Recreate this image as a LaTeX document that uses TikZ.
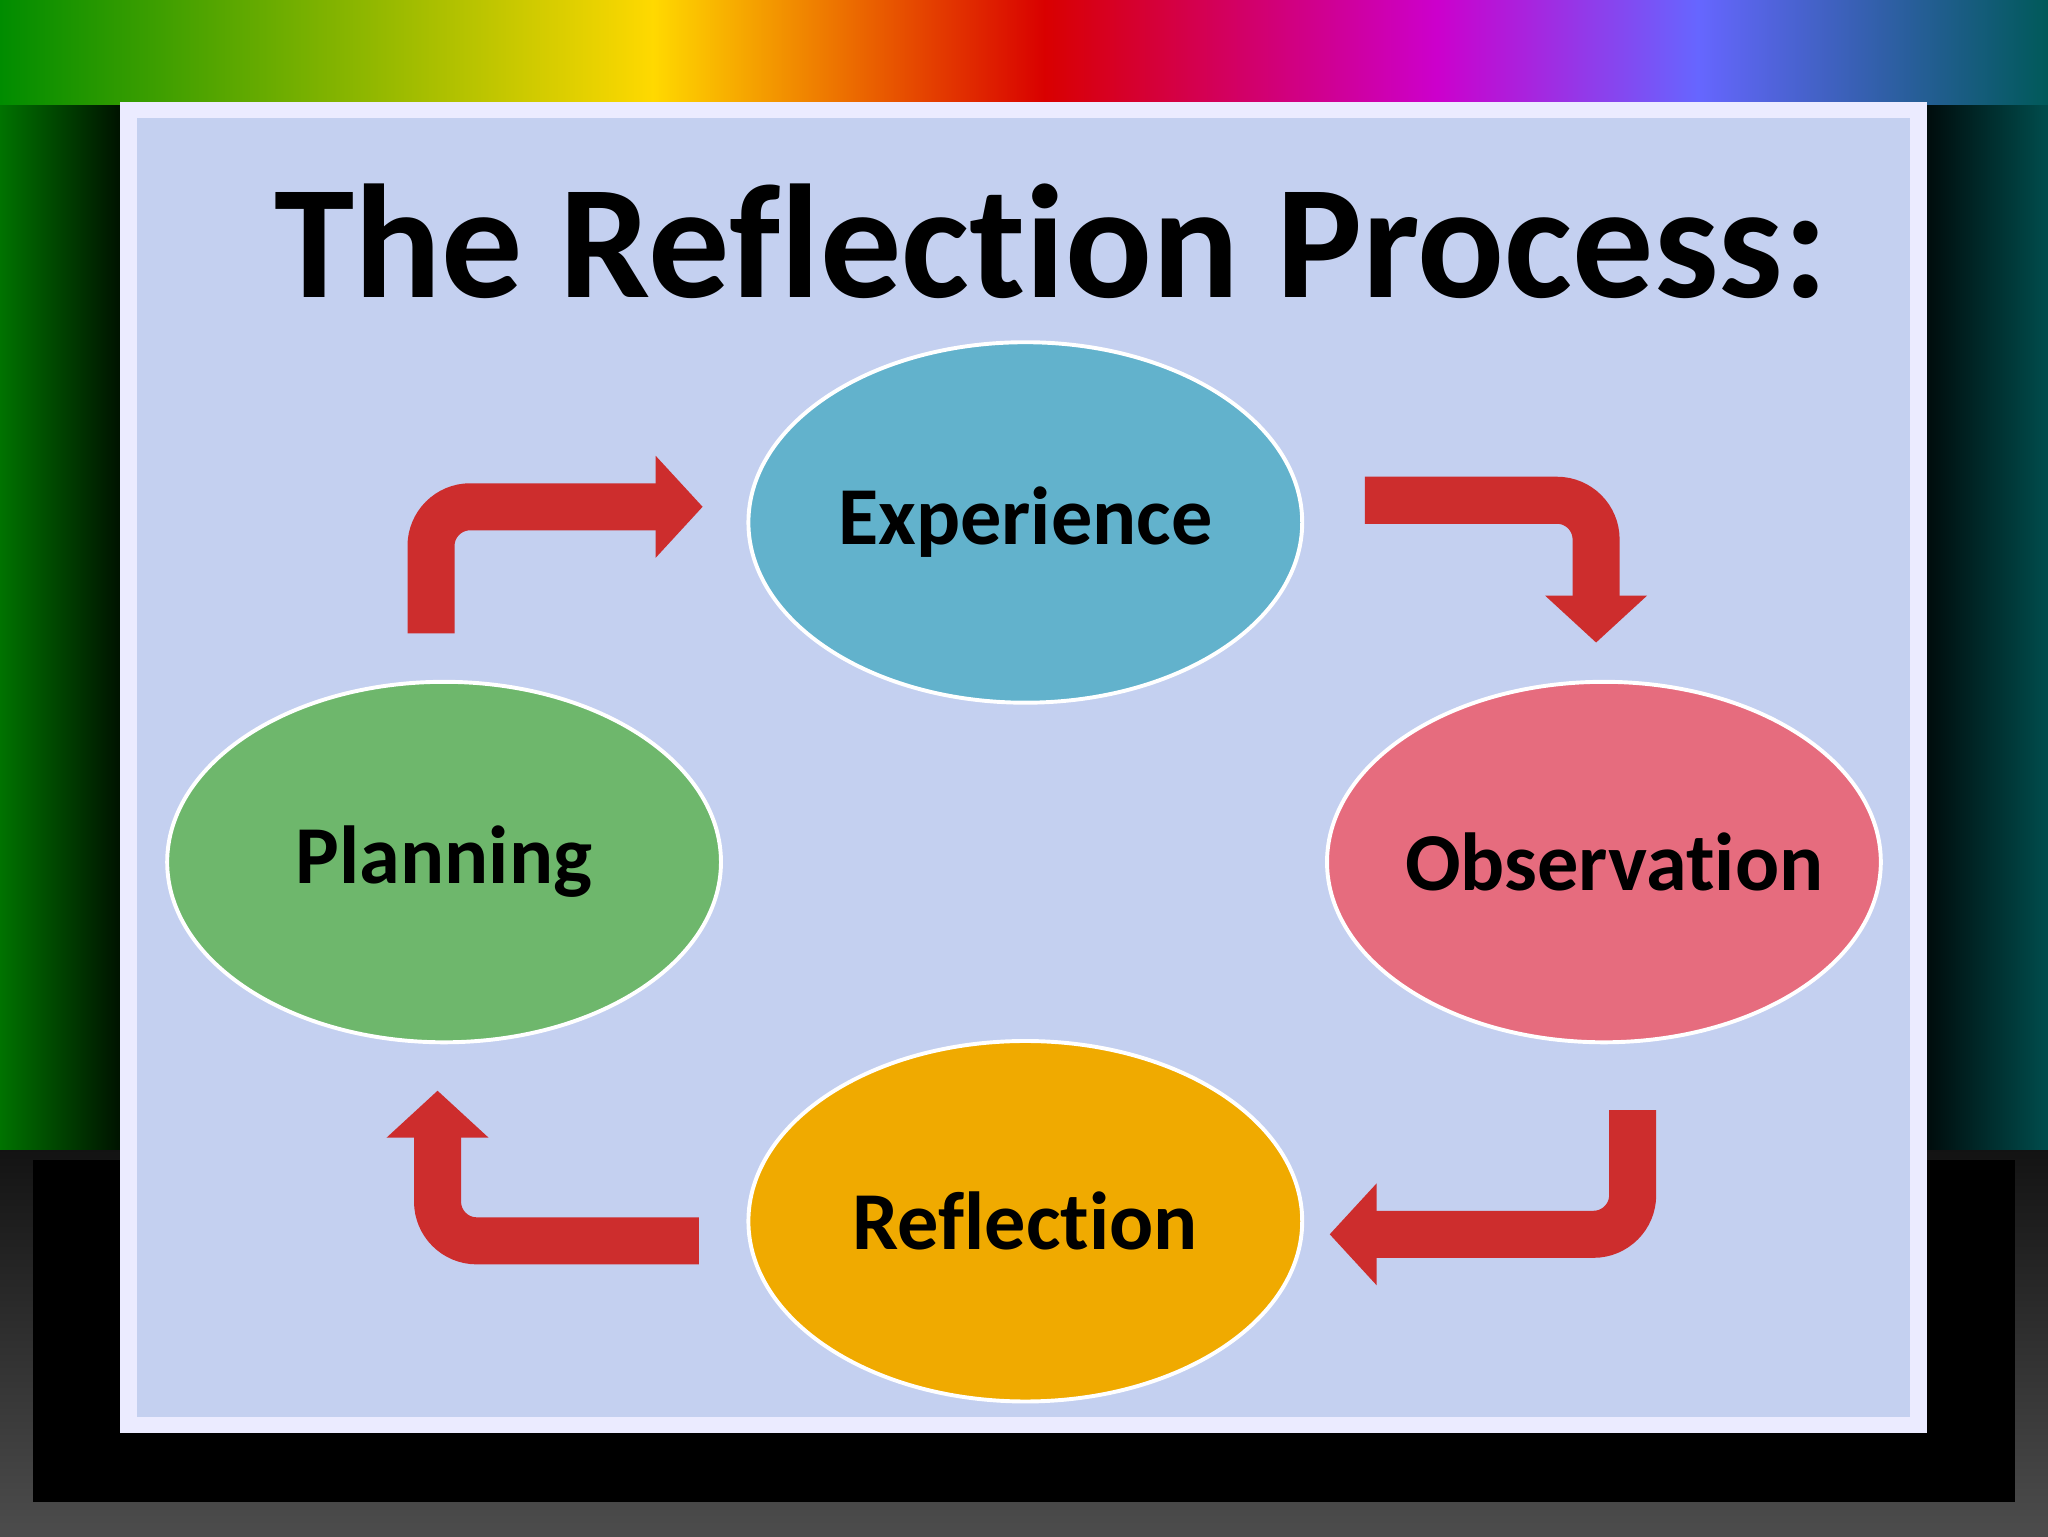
\documentclass[tikz,border=0pt]{standalone}
\usepackage{fontspec}
\setmainfont[Ligatures={NoCommon}]{Carlito}
\usetikzlibrary{shapes.geometric,arrows.meta}
\definecolor{arrred}{RGB}{205,45,45}
\definecolor{panel}{RGB}{196,208,240}
\definecolor{cexp}{RGB}{98,178,204}
\definecolor{cobs}{RGB}{230,108,126}
\definecolor{cpla}{RGB}{110,183,108}
\definecolor{cref}{RGB}{240,170,0}
\begin{document}
\begin{tikzpicture}[x=1pt,y=-1pt,
  blob/.style={ellipse,inner sep=0pt,minimum width=424pt,minimum height=276pt,draw=white,line width=3pt,font=\bfseries\fontsize{63}{65}\selectfont},
  bent/.style={draw=arrred,line width=36pt,rounded corners=30pt,-{Triangle[length=36pt,width=76pt]}}]
\useasboundingbox (0,0) rectangle (1568,1176);
\fill[black] (0,0) rectangle (1568,1176);
\shade[top color=black!85!gray,bottom color=black!40!gray] (0,880) rectangle (1568,1176);
\fill[black] (25,888) rectangle (1543,1150);
\shade[left color=green!45!black,right color=black] (0,0) rectangle (110,880);
\shade[left color=black,right color=teal!60!black] (1458,0) rectangle (1568,880);
\shade[left color=green!55!black,right color=yellow!70!orange] (0,0) rectangle (500,80);
\shade[left color=yellow!70!orange,right color=red!85!black] (500,0) rectangle (800,80);
\shade[left color=red!85!black,right color=magenta!80!black] (800,0) rectangle (1100,80);
\shade[left color=magenta!80!black,right color=blue!60] (1100,0) rectangle (1300,80);
\shade[left color=blue!60,right color=teal!70!black] (1300,0) rectangle (1568,80);
\fill[white!92!blue] (92,78) rectangle (1475,1097);
\fill[panel] (105,90) rectangle (1462,1085);
\node[font=\bfseries\fontsize{124}{126}\selectfont] (title) at (805,185) {The Reflection Process:};
\node[blob,fill=cexp] (exp) at (785,400) {\makebox[0pt]{Experience}};
\node[blob,fill=cobs] (obs) at (1228,660) {\makebox[0pt]{\hspace{16pt}Observation}};
\node[blob,fill=cpla] (pla) at (340,660) {\makebox[0pt]{Planning}};
\node[blob,fill=cref] (ref) at (785,935) {\makebox[0pt]{Reflection}};
\coordinate (a1) at (330,485); \coordinate (a2) at (330,388); \coordinate (a3) at (538,388);
\coordinate (b1) at (1045,383); \coordinate (b2) at (1222,383); \coordinate (b3) at (1222,492);
\coordinate (c1) at (1250,850); \coordinate (c2) at (1250,945); \coordinate (c3) at (1018,945);
\coordinate (d1) at (535,950); \coordinate (d2) at (335,950); \coordinate (d3) at (335,835);
\draw[bent] (a1) -- (a2) -- (a3);
\draw[bent] (b1) -- (b2) -- (b3);
\draw[bent] (c1) -- (c2) -- (c3);
\draw[bent] (d1) -- (d2) -- (d3);
\end{tikzpicture}
\end{document}
